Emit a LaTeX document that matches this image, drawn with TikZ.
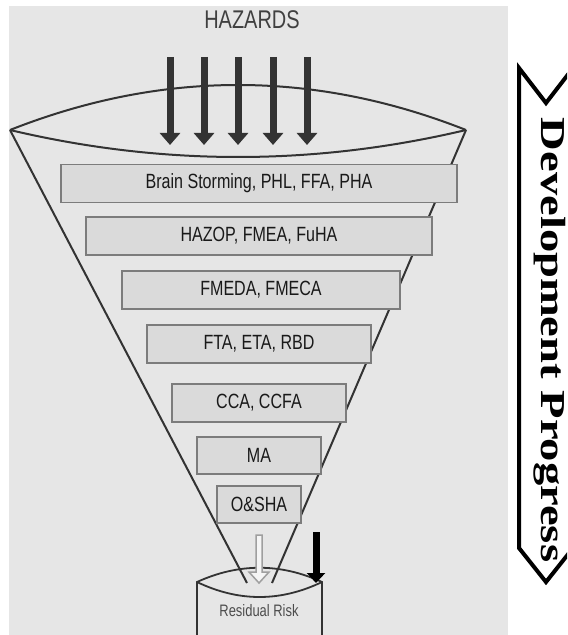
\documentclass[tikz,border=0pt]{standalone}
\usepackage{fontspec}
\setmainfont{Liberation Serif}
\newfontfamily\narrowsans[FakeStretch=0.78]{Liberation Sans}
\newfontfamily\tallserif[FakeStretch=1.33]{Liberation Serif}
\usepackage{tikz}
\usetikzlibrary{arrows.meta}

\definecolor{bggray}{HTML}{E6E6E6}
\definecolor{boxfill}{HTML}{DADADA}
\definecolor{boxline}{HTML}{7C7C7C}
\definecolor{ink}{HTML}{333333}

\tikzset{
    method/.style={draw=boxline, line width=0.75pt, fill=boxfill, inner sep=0pt,
        minimum height=19pt, text=black!90, font=\narrowsans\fontsize{10.3}{12}\selectfont},
    funnel/.style={draw=ink, line width=1pt},
    hazardarrow/.style={draw=ink, line width=3.5pt, -{Triangle[width=10pt,length=6pt]}}
}

\begin{document}
\begin{tikzpicture}[x=0.5pt, y=-0.5pt]
\useasboundingbox (0,0) rectangle (567,635);
\clip (0,0) rectangle (567,635);
\fill[bggray] (9,6) rectangle (508,635);

\coordinate (lensL) at (10,130);
\coordinate (lensR) at (466,130);
\coordinate (neckL) at (247,583);
\coordinate (neckR) at (272,583);

\node[text=black!75, font=\narrowsans\fontsize{12.8}{15}\selectfont] (hazards) at (252,20) {HAZARDS};

\draw[funnel] (lensL) -- (neckL);
\draw[funnel] (lensR) -- (neckR);
\draw[funnel] (lensL) .. controls (162,70) and (314,70) .. (lensR);
\draw[funnel] (lensL) .. controls (162,166) and (314,166) .. (lensR);

\draw[hazardarrow] (170,57) -- (170,145);
\draw[hazardarrow] (204,57) -- (204,145);
\draw[hazardarrow] (238,57) -- (238,145);
\draw[hazardarrow] (273,57) -- (273,145);
\draw[hazardarrow] (307,57) -- (307,145);

\node[method, minimum width=198pt] (brain) at (259,183.5) {Brain Storming, PHL, FFA, PHA};
\node[method, minimum width=173pt] (hazop) at (259,236) {HAZOP, FMEA, FuHA};
\node[method, minimum width=139pt] (fmeda) at (261,290) {FMEDA, FMECA};
\node[method, minimum width=112pt] (fta) at (259,344) {FTA, ETA, RBD};
\node[method, minimum width=87pt] (cca) at (259,403) {CCA, CCFA};
\node[method, minimum width=62pt, minimum height=18.5pt] (ma) at (259,455.5) {MA};
\node[method, minimum width=42pt, minimum height=18.5pt] (osha) at (259,504.5) {O\&SHA};

\draw[funnel, line width=0.9pt] (197,640) -- (197,582) .. controls (238.7,563) and (280.3,563) .. (322,582) -- (322,640);
\draw[funnel, line width=0.9pt] (197,582) .. controls (238.7,602) and (280.3,602) .. (322,582);
\node[text=black!70, font=\narrowsans\fontsize{8.3}{10}\selectfont] (residual) at (259,611) {Residual Risk};

\draw[draw=gray!75, fill=gray!8, line width=0.75pt] (256,535) -- (262,535) -- (262,572) -- (269,572)
    -- (259,583) -- (249,572) -- (256,572) -- cycle;
\draw[line width=3.5pt, -{Triangle[width=9pt,length=5pt]}] (316,532) -- (316,583);

\draw[line width=2pt, fill=white] (519,68) -- (546,103) -- (573,68) -- (573,548) -- (546,582) -- (519,548) -- cycle;
\node[rotate=-90, font=\tallserif\bfseries\fontsize{17.5}{20}\selectfont] (progress) at (550,340) {Development Progress};
\end{tikzpicture}
\end{document}
